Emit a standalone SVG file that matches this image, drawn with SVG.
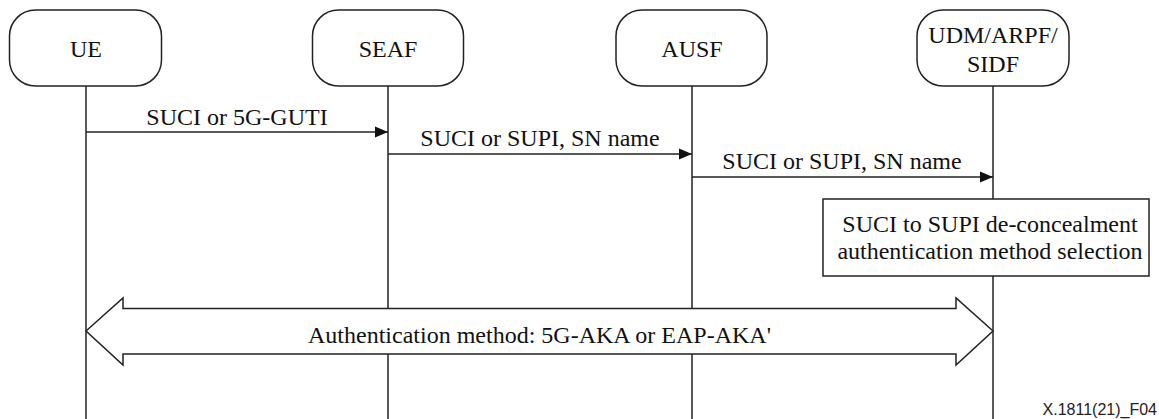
<svg xmlns="http://www.w3.org/2000/svg" width="1159" height="419" viewBox="0 0 1159 419">
<defs>
<style>
.node rect{fill:#fff;stroke:#222;stroke-width:1.5}
.t{font-family:'Liberation Serif','Times New Roman','DejaVu Serif',serif;font-size:24px;fill:#111;text-anchor:middle}
.life{stroke:#222;stroke-width:1.5}
.msg{stroke:#222;stroke-width:1.5;fill:none;marker-end:url(#ah)}
.fig{font-family:'Liberation Sans',Arial,sans-serif;font-size:16px;fill:#222;text-anchor:end}
</style>
<marker id="ah" markerWidth="14" markerHeight="12" refX="13" refY="6" orient="auto" markerUnits="userSpaceOnUse">
<path d="M0,0.5 L13,6 L0,11.5 Z" fill="#111"/>
</marker>
</defs>
<rect width="1159" height="419" fill="#fff"/>
<g id="lifelines">
<line class="life" x1="86" y1="86" x2="86" y2="419"/>
<line class="life" x1="388" y1="86" x2="388" y2="419"/>
<line class="life" x1="692" y1="86" x2="692" y2="419"/>
<line class="life" x1="993" y1="86" x2="993" y2="419"/>
</g>
<g id="node-ue" class="node"><rect x="9.5" y="10" width="152" height="76" rx="26"/><text class="t" x="86" y="57">UE</text></g>
<g id="node-seaf" class="node"><rect x="312.5" y="10" width="151" height="76" rx="26"/><text class="t" x="388" y="57">SEAF</text></g>
<g id="node-ausf" class="node"><rect x="616" y="10" width="151" height="76" rx="26"/><text class="t" x="692" y="57">AUSF</text></g>
<g id="node-udm" class="node"><rect x="917" y="10" width="152" height="76" rx="26"/><text class="t" x="993" y="43">UDM/ARPF/</text><text class="t" x="993" y="72">SIDF</text></g>
<g id="connectors">
<line class="msg" x1="86" y1="132" x2="388" y2="132"/>
<text class="t" x="237" y="125">SUCI or 5G-GUTI</text>
<line class="msg" x1="388" y1="154" x2="692" y2="154"/>
<text class="t" x="540" y="146">SUCI or SUPI, SN name</text>
<line class="msg" x1="692" y1="177" x2="993" y2="177"/>
<text class="t" x="842" y="169">SUCI or SUPI, SN name</text>
<g id="auth">
<path d="M86,331 L123,298 L123,308.5 L956,308.5 L956,298 L993,331 L956,365 L956,354 L123,354 L123,365 Z" fill="#fff" stroke="#222" stroke-width="1.5" stroke-linejoin="miter"/>
<text class="t" x="539.5" y="343">Authentication method: 5G-AKA or EAP-AKA'</text>
</g>
</g>
<g id="node-proc" class="node"><rect x="823" y="199" width="326" height="77"/><text class="t" x="990" y="232">SUCI to SUPI de-concealment</text><text class="t" x="990" y="259">authentication method selection</text></g>
<text class="fig" x="1157" y="415">X.1811(21)_F04</text>
</svg>
